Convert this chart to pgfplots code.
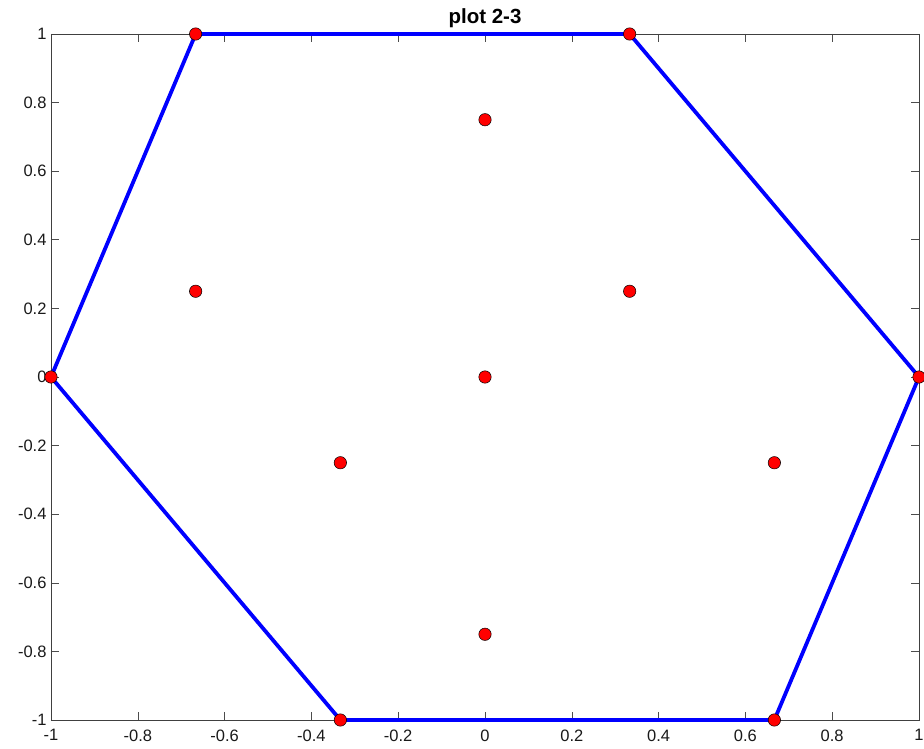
\documentclass[border=0pt]{standalone}
\usepackage{pgfplots}
\pgfplotsset{compat=1.18}
\usepackage{fontspec}
\setmainfont{Liberation Sans}
\begin{document}
\begin{tikzpicture}[x=1pt,y=1pt]
\useasboundingbox (0,0) rectangle (924pt,748pt);
\begin{axis}[
  at={(51pt,28pt)}, anchor=south west,
  scale only axis, width=868pt, height=686pt,
  xmin=-1, xmax=1, ymin=-1, ymax=1,
  xtick={-1,-0.8,...,1.01}, ytick={-1,-0.8,...,1.01},
  xticklabels={-1,-0.8,-0.6,-0.4,-0.2,0,0.2,0.4,0.6,0.8,1},
  yticklabels={-1,-0.8,-0.6,-0.4,-0.2,0,0.2,0.4,0.6,0.8,1},
  tick align=inside, major tick length=8pt,
  tick style={color=black!70, line width=0.6pt},
  axis line style={color=black!75, line width=0.8pt},
  ticklabel style={font=\fontsize{16.5}{18}\selectfont, text=black!90},
  xticklabel style={yshift=-6pt},
  yticklabel style={xshift=-1pt},
  title={plot 2-3},
  title style={font=\fontsize{20.5}{22}\selectfont\bfseries, at={(0.5,1)}, anchor=base, yshift=4pt},
  clip=false,
]
\addplot[blue, line width=3.8pt, no markers] coordinates {
  (-0.6667,1) (0.3333,1) (1,0) (0.6667,-1) (-0.3333,-1) (-1,0) (-0.6667,1)
};
\addplot[only marks, mark=*, mark size=6.2pt, mark options={fill=red, draw=black, line width=0.5pt}] coordinates {
  (-0.6667,1) (0.3333,1) (1,0) (0.6667,-1) (-0.3333,-1) (-1,0)
  (0,0.75) (-0.6667,0.25) (0.3333,0.25) (0,0) (-0.3333,-0.25) (0.6667,-0.25) (0,-0.75)
};
\end{axis}
\end{tikzpicture}
\end{document}
